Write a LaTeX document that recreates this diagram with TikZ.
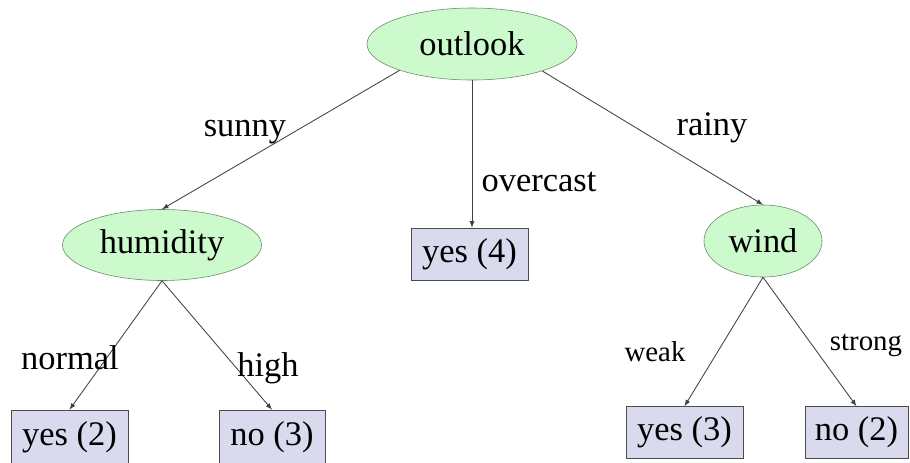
\documentclass[tikz,border=0pt]{standalone}
\usepackage{fontspec}
\setmainfont{Liberation Serif}
\usetikzlibrary{shapes.geometric}
\definecolor{attrfill}{RGB}{204,250,204}
\definecolor{attrline}{RGB}{105,135,105}
\definecolor{leaffill}{RGB}{218,218,238}
\begin{document}
\begin{tikzpicture}[x=0.025cm, y=-0.025cm,
    attr/.style={ellipse, draw=attrline, fill=attrfill, inner sep=0pt, font=\fontsize{24.5}{29}\selectfont},
    leaf/.style={rectangle, draw=black!70, fill=leaffill, inner sep=0pt, minimum height=1.3cm, font=\fontsize{24.5}{29}\selectfont},
    branch/.style={font=\fontsize{24.5}{29}\selectfont},
    smallbranch/.style={font=\fontsize{20.5}{24}\selectfont},
    edge/.style={draw=black!75, line width=0.6pt, ->, >=latex}]
      \useasboundingbox (0,0) rectangle (910,462);
      % \draw[help lines] (0,0) grid[step=1cm] (910,462);
      \node[attr, minimum width=5.25cm, minimum height=1.8cm] (outlook) at (472,44) {outlook};
      \node[attr, minimum width=4.975cm, minimum height=1.775cm] (humidity) at (162,245) {humidity};
      \node[attr, minimum width=2.95cm, minimum height=1.8cm] (wind) at (763,241) {wind};
      \node[leaf, minimum width=2.925cm] (yes4) at (469.5,254) {yes (4)};
      \node[leaf, minimum width=2.925cm, minimum height=1.35cm] (yes2) at (69.5,437) {yes (2)};
      \node[leaf, minimum width=2.65cm, minimum height=1.35cm] (no3) at (272,437) {no (3)};
      \node[leaf, minimum width=2.925cm] (yes3) at (684.5,432.5) {yes (3)};
      \node[leaf, minimum width=2.575cm] (no2) at (856.5,432.5) {no (2)};
      \draw[edge] (outlook.200) -- (humidity.north);
      \draw[edge] (outlook.south) -- (outlook.south |- yes4.north);
      \draw[edge] (outlook.339) -- (wind.north);
      \draw[edge] (humidity.south) -- (yes2.north);
      \draw[edge] (humidity.south) -- (no3.north);
      \draw[edge] (wind.south) -- (yes3.north);
      \draw[edge] (wind.south) -- (no2.north);
      \node[branch] (sunny) at (245,132) {sunny};
      \node[branch] (overcast) at (539,182) {overcast};
      \node[branch] (rainy) at (712,128) {rainy};
      \node[branch] (normal) at (70,358) {normal};
      \node[branch] (high) at (268,368) {high};
      \node[smallbranch] (weak) at (655,352) {weak};
      \node[smallbranch] (strong) at (866,345) {strong};
\end{tikzpicture}
\end{document}
